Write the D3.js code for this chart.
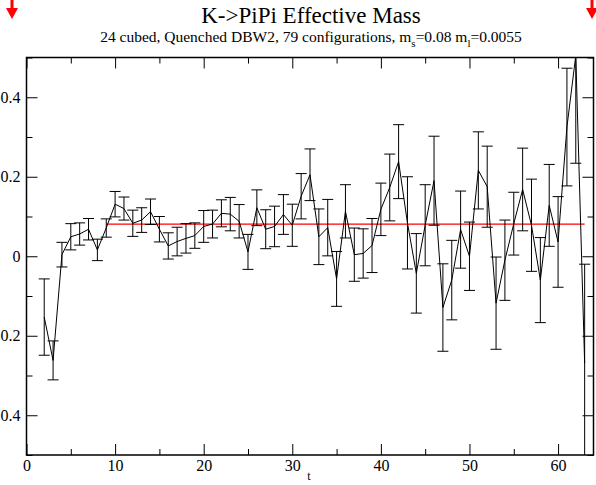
<!DOCTYPE html>
<html>
<head>
<meta charset="utf-8">
<script src="https://cdn.jsdelivr.net/npm/d3@7"></script>
<style>
  html, body { margin: 0; padding: 0; background: #fff; }
  svg { display: block; font-family: "Liberation Serif", "Times New Roman", serif; }
</style>
</head>
<body>
<svg id="chart" width="596" height="485"></svg>
<script>
// ---- data ----
const tValues = [2,3,4,5,6,7,8,9,10,11,12,13,14,15,16,17,18,19,20,21,22,23,24,25,26,27,28,29,30,31,32,
  33,34,35,36,37,38,39,40,41,42,43,44,45,46,47,48,49,50,51,52,53,54,55,56,57,58,59,60,61,62,63];
const effMass = [-0.153,-0.262,0.004,0.049,0.056,0.068,0.016,0.071,0.131,0.120,0.083,0.091,0.112,0.068,0.026,0.037,
  0.045,0.052,0.075,0.081,0.108,0.106,0.088,0.011,0.122,0.068,0.075,0.105,0.078,0.151,0.205,
  0.049,0.072,-0.057,0.113,0.004,0.007,0.027,0.118,0.173,0.238,0.084,-0.043,0.078,0.190,-0.129,
  -0.060,0.067,0.000,0.216,0.175,-0.118,-0.010,0.082,0.168,0.078,-0.060,0.128,0.036,0.325,0.505,-0.269];
const effErr = [0.096,0.049,0.031,0.033,0.028,0.027,0.027,0.023,0.032,0.029,0.033,0.031,0.032,0.032,0.033,0.036,
  0.037,0.032,0.040,0.035,0.034,0.042,0.042,0.044,0.045,0.049,0.051,0.050,0.053,0.057,0.065,
  0.070,0.071,0.069,0.067,0.067,0.062,0.068,0.066,0.084,0.093,0.116,0.100,0.102,0.112,0.110,
  0.100,0.097,0.086,0.097,0.102,0.116,0.101,0.079,0.104,0.116,0.107,0.103,0.114,0.148,0.271,0.249];
const fitValue = 0.081;
const fitRange = [9, 63];
const xMajorTicks = [0,10,20,30,40,50,60];
const xMinorTicks = [5,15,25,35,45,55];
const yMajorTicks = [-0.4,-0.2,0,0.2,0.4];
// labels as visible in the reference (minus signs fall outside its frame)
const yTickLabels = ["0.4","0.2","0","0.2","0.4"];
const yMinorTicks = [-0.5,-0.3,-0.1,0.1,0.3,0.5];
const titleText = "K->PiPi Effective Mass";
const xLabel = "t";

// ---- layout ----
const svg = d3.select("#chart");
const L = 26.5, R = 593.5, T = 57.5, B = 455;
const x = d3.scaleLinear().domain([0, 64]).range([L, R]);
const y = d3.scaleLinear().domain([-0.5, 0.5]).range([B, T]);

const data = tValues.map((t, i) => ({t, v: effMass[i], e: effErr[i]}));

// clip
svg.append("defs").append("clipPath").attr("id", "clip")
  .append("rect").attr("x", L).attr("y", T).attr("width", R - L).attr("height", B - T);

const plot = svg.append("g").attr("clip-path", "url(#clip)");

// fit line
plot.append("line")
  .attr("x1", x(fitRange[0])).attr("x2", x(fitRange[1]))
  .attr("y1", y(fitValue)).attr("y2", y(fitValue))
  .attr("stroke", "#ff0000").attr("stroke-width", 1.2);

// error bars
const cap = 5.5;
const eb = plot.append("g").attr("stroke", "#000").attr("stroke-width", 1).attr("fill", "none");
data.forEach(d => {
  const cx = x(d.t);
  const yt = y(d.v + d.e), yb = y(d.v - d.e);
  eb.append("line").attr("x1", cx).attr("x2", cx).attr("y1", yt).attr("y2", yb);
  eb.append("line").attr("x1", cx - cap).attr("x2", cx + cap).attr("y1", yt).attr("y2", yt);
  eb.append("line").attr("x1", cx - cap).attr("x2", cx + cap).attr("y1", yb).attr("y2", yb);
});

// data line
plot.append("path").datum(data)
  .attr("fill", "none").attr("stroke", "#000").attr("stroke-width", 1)
  .attr("d", d3.line().x(d => x(d.t)).y(d => y(d.v)));

// axes
const fontSize = "16px";
function styleAxis(g) {
  g.attr("font-family", null).attr("font-size", null);
  g.select(".domain").remove();
  g.selectAll("line").attr("stroke", "#000");
  g.selectAll("text").attr("font-size", fontSize).attr("fill", "#000")
    .attr("font-family", "'Liberation Serif','Times New Roman',serif");
}
const fmtY = d => yTickLabels[yMajorTicks.indexOf(d)];

svg.append("g").attr("transform", `translate(0,${B})`)
  .call(d3.axisBottom(x).tickValues(xMajorTicks).tickSize(-11).tickPadding(5).tickFormat(d3.format("d")))
  .call(styleAxis);
svg.append("g").attr("transform", `translate(0,${B})`)
  .call(d3.axisBottom(x).tickValues(xMinorTicks).tickSize(-6).tickFormat(""))
  .call(styleAxis);
svg.append("g").attr("transform", `translate(0,${T})`)
  .call(d3.axisTop(x).tickValues(xMajorTicks).tickSize(-11).tickFormat(""))
  .call(styleAxis);
svg.append("g").attr("transform", `translate(0,${T})`)
  .call(d3.axisTop(x).tickValues(xMinorTicks).tickSize(-6).tickFormat(""))
  .call(styleAxis);
svg.append("g").attr("transform", `translate(${L},0)`)
  .call(d3.axisLeft(y).tickValues(yMajorTicks).tickSize(-11).tickPadding(6).tickFormat(fmtY))
  .call(styleAxis);
svg.append("g").attr("transform", `translate(${L},0)`)
  .call(d3.axisLeft(y).tickValues(yMinorTicks).tickSize(-6).tickFormat(""))
  .call(styleAxis);
svg.append("g").attr("transform", `translate(${R},0)`)
  .call(d3.axisRight(y).tickValues(yMajorTicks).tickSize(-11).tickFormat(""))
  .call(styleAxis);
svg.append("g").attr("transform", `translate(${R},0)`)
  .call(d3.axisRight(y).tickValues(yMinorTicks).tickSize(-6).tickFormat(""))
  .call(styleAxis);

// frame
svg.append("rect").attr("x", L).attr("y", T).attr("width", R - L).attr("height", B - T)
  .attr("fill", "none").attr("stroke", "#000").attr("stroke-width", 1.5);

// axis label
svg.append("text").attr("x", 309).attr("y", 480).attr("text-anchor", "middle")
  .attr("font-size", "12px").text(xLabel);

// titles
svg.append("text").attr("x", 311).attr("y", 22.5).attr("text-anchor", "middle")
  .attr("font-size", "23px").text(titleText);
const sub = svg.append("text").attr("x", 311).attr("y", 41.5).attr("text-anchor", "middle")
  .attr("font-size", "15.5px");
sub.append("tspan").text("24 cubed, Quenched DBW2, 79 configurations, m");
sub.append("tspan").attr("dy", 5).attr("font-size", "11px").text("s");
sub.append("tspan").attr("dy", -5).text("=0.08 m");
sub.append("tspan").attr("dy", 5).attr("font-size", "11px").text("l");
sub.append("tspan").attr("dy", -5).text("=0.0055");

// red arrows (top corners)
function arrow(cx) {
  const g = svg.append("g").attr("fill", "#ff0000").attr("stroke", "#ff0000");
  g.append("line").attr("x1", cx).attr("x2", cx).attr("y1", 0).attr("y2", 10).attr("stroke-width", 3);
  g.append("path").attr("stroke", "none")
    .attr("d", `M${cx - 6},8 L${cx + 6},8 L${cx},19 Z`);
}
arrow(12);
arrow(592);
</script>
</body>
</html>
